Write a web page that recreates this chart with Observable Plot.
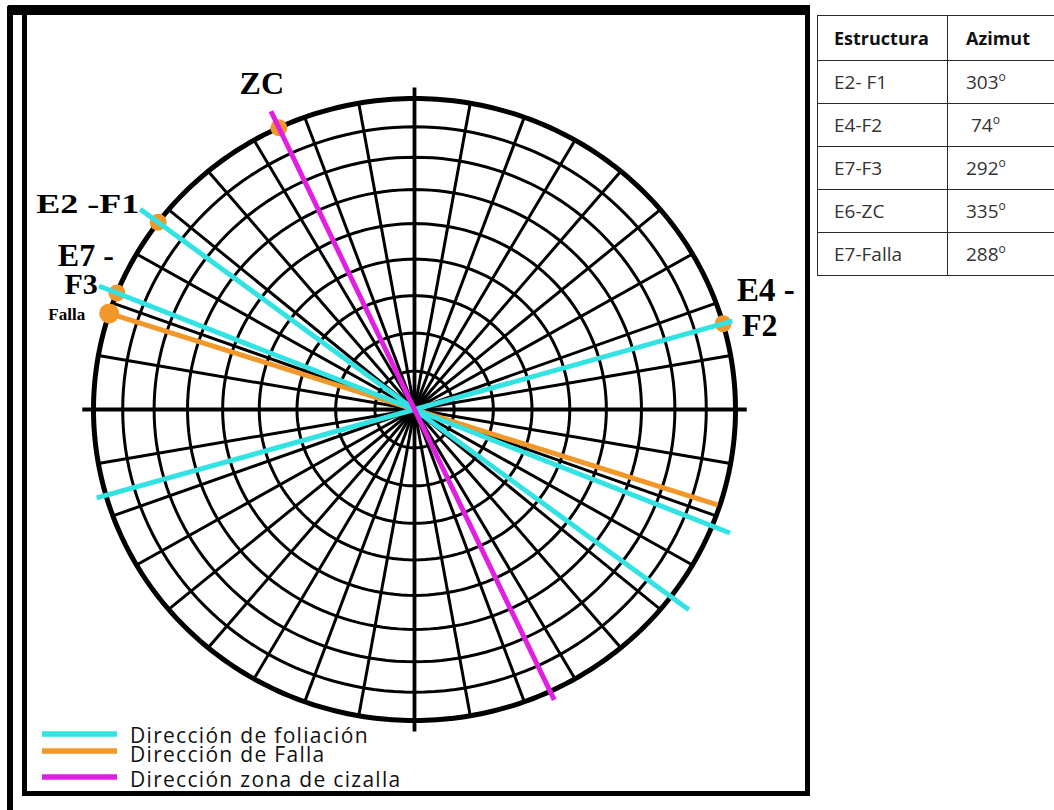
<!DOCTYPE html>
<html><head><meta charset="utf-8">
<script src="https://cdn.jsdelivr.net/npm/d3@7"></script>
<script src="https://cdn.jsdelivr.net/npm/@observablehq/plot@0.6"></script>
<style>
  html,body{margin:0;padding:0;background:#fff;}
  body{width:1054px;height:810px;position:relative;overflow:hidden;}
  #chart{position:absolute;left:0;top:0;}
  .blk{position:absolute;background:#000;}
  #frame{position:absolute;left:22px;top:10px;width:788px;height:786px;border:5px solid #000;box-sizing:border-box;}
  #tabla{position:absolute;left:817px;top:15px;border-collapse:collapse;table-layout:fixed;width:280px;font-family:"Open Sans",sans-serif;}
  #tabla td,#tabla th{border:1.6px solid #2a2a2a;text-align:left;padding:0 0 0 16px;white-space:nowrap;}
  #tabla th{height:44px;font-size:18px;font-weight:bold;color:#111;}
  #tabla td{height:42px;font-size:19px;color:#333;}
  #tabla .c2{padding-left:18px;}
  #tabla sup{font-size:12px;vertical-align:8px;line-height:0;}
  #leyenda{position:absolute;left:0;top:0;}
</style></head><body>
<div id="chart"></div>
<div class="blk" style="left:7px;top:5px;width:803px;height:10px;border-top-left-radius:3px;"></div>
<div class="blk" style="left:7px;top:5px;width:6px;height:805px;border-top-left-radius:3px;"></div>
<div id="frame"></div>
<table id="tabla"><colgroup><col style="width:130px"><col style="width:150px"></colgroup></table>
<svg id="leyenda" width="1054" height="810"></svg>
<script>
// ---- data ----
const estructuras = ["E2- F1", "E4-F2", "E7-F3", "E6-ZC", "E7-Falla"];
const azimutTabla = ["303", "\u00a074", "292", "335", "288"];
const cabecera = ["Estructura", "Azimut"];
const etiquetas = ["E2 -F1", "E4 -", "F2", "E7 -", "F3", "Falla", "ZC"];
const etiquetaAz = [307, 74, 74, 292, 292, 288, 335];
const lineaAz = [307, 74, 292, 335, 288];                 // azimuths as drawn
const lineaTipo = ["foliacion", "foliacion", "foliacion", "cizalla", "falla"];
const alcanceA = [1.07, 1.03, 1.06, 1.058, 1.0];           // reach on the azimuth side
const alcanceB = [1.07, 1.03, 1.06, 1.03, 0.993];          // reach on the opposite side
const puntoAz = [335, 307, 292, 288, 74];
const circulosBuz = [10, 20, 30, 40, 50, 60, 70, 80];      // equal-area polar net circles
const radiales = d3.range(0, 360, 10);
const ejes = [0, 90, 180, 270];
const tipos = ["foliacion", "falla", "cizalla"];
const leyenda = ["Dirección de foliación", "Dirección de Falla", "Dirección zona de cizalla"];

// ---- layout / style ----
const W = 1054, H = 810, cx = 414, cy = 409, Rx = 321, Ry = 311;
const colores = ["#33e3e3", "#f2982a", "#e21ee2"];
const serif = "'Liberation Serif', 'Times New Roman', serif";
const labelStyle = [
  {dx: -19, dy: -9, anchor: "end", size: 27, len: 103},
  {dx: 14, dy: -23, anchor: "start", size: 33},
  {dx: 19, dy: 12, anchor: "start", size: 32},
  {dx: -3, dy: -27, anchor: "end", size: 32},
  {dx: -19, dy: 1, anchor: "end", size: 30},
  {dx: -24, dy: 7, anchor: "end", size: 17},
  {dx: -17, dy: -34, anchor: "middle", size: 32}
];

const rad = a => a * Math.PI / 180;
const px = (az, r) => r * Math.sin(rad(az));
const py = (az, r) => r * Math.cos(rad(az));

const circPts = [];
circulosBuz.forEach(t => {
  const r = Math.SQRT2 * Math.sin(rad(t / 2));
  for (let a = 0; a <= 360; a += 2) circPts.push({k: t, x: px(a, r), y: py(a, r)});
});
const outerPts = d3.range(0, 361, 1).map(a => ({x: px(a, 1), y: py(a, 1)}));
const lineas = lineaAz.map((az, i) => ({az, tipo: lineaTipo[i], a: alcanceA[i], b: alcanceB[i]}));
const etiq = etiquetas.map((t, i) => ({t, az: etiquetaAz[i], s: labelStyle[i]}));

const marks = [
  Plot.line(circPts, {x: "x", y: "y", z: "k", stroke: "#000", strokeWidth: 3}),
  Plot.link(radiales, {x1: 0, y1: 0, x2: a => px(a, 1), y2: a => py(a, 1), stroke: "#000", strokeWidth: 3}),
  Plot.link(ejes, {x1: 0, y1: 0, x2: a => px(a, 1.035), y2: a => py(a, 1.035), stroke: "#000", strokeWidth: 3.8}),
  Plot.line(outerPts, {x: "x", y: "y", stroke: "#000", strokeWidth: 5}),
  Plot.dot(puntoAz.filter(a => a !== 288), {x: a => px(a, 1), y: a => py(a, 1), r: 8.5, fill: colores[1]}),
  Plot.dot(puntoAz.filter(a => a === 288), {x: a => px(a, 1.0), y: a => py(a, 1.0), r: 10, fill: colores[1]}),
  Plot.link(lineas.filter(d => d.tipo === "falla"), {x1: d => px(d.az, d.a), y1: d => py(d.az, d.a), x2: d => px(d.az + 180, d.b), y2: d => py(d.az + 180, d.b), stroke: "tipo", strokeWidth: 5}),
  Plot.link(lineas.filter(d => d.tipo !== "falla"), {x1: d => px(d.az, d.a), y1: d => py(d.az, d.a), x2: d => px(d.az + 180, d.b), y2: d => py(d.az + 180, d.b), stroke: "tipo", strokeWidth: 5}),
  ...etiq.map(d => Plot.text([d], {
    x: e => px(e.az, 1), y: e => py(e.az, 1), text: "t",
    dx: d.s.dx, dy: d.s.dy, textAnchor: d.s.anchor, lineAnchor: "bottom",
    fontSize: d.s.size, fontWeight: "bold", fontFamily: serif, fill: "#000"
  }))
];

const chart = Plot.plot({
  width: W, height: H, margin: 0,
  x: {domain: [-cx / Rx, (W - cx) / Rx], axis: null},
  y: {domain: [-(H - cy) / Ry, cy / Ry], axis: null},
  color: {domain: tipos, range: colores},
  style: {background: "transparent", overflow: "visible"},
  marks
});
document.getElementById("chart").appendChild(chart);
d3.select(chart).selectAll("text").filter(function () { return this.textContent === etiquetas[0]; })
  .attr("textLength", labelStyle[0].len).attr("lengthAdjust", "spacingAndGlyphs");

// table
const tb = d3.select("#tabla");
const hr = tb.append("tr");
hr.append("th").attr("class", "c1").text(cabecera[0]);
hr.append("th").attr("class", "c2").text(cabecera[1]);
estructuras.forEach((e, i) => {
  const r = tb.append("tr");
  r.append("td").attr("class", "c1").text(e);
  const c = r.append("td").attr("class", "c2");
  c.append("span").text(azimutTabla[i]);
  c.append("sup").text("o");
});

// legend
const lg = d3.select("#leyenda");
const lgY = [734, 751, 777], lgBase = [743, 762, 787];
leyenda.forEach((t, i) => {
  lg.append("line").attr("x1", 42).attr("x2", 117).attr("y1", lgY[i]).attr("y2", lgY[i])
    .attr("stroke", colores[i]).attr("stroke-width", 5.5);
  lg.append("text").attr("x", 130).attr("y", lgBase[i]).text(t)
    .attr("font-family", "'Open Sans', sans-serif").attr("font-size", 21).attr("font-weight", 500)
    .attr("letter-spacing", 1.3).attr("fill", "#111");
});
</script>
</body></html>
